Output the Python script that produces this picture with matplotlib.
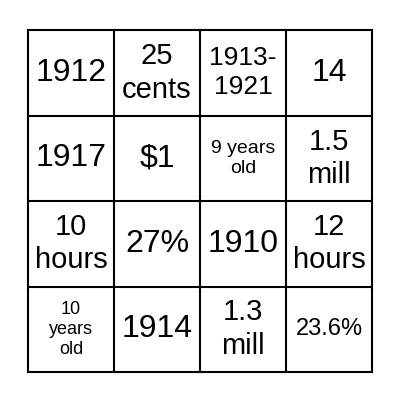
import matplotlib
matplotlib.use("Agg")
import matplotlib.pyplot as plt

cells = [
    ["1912", "25\ncents", "1913-\n1921", "14"],
    ["1917", "$1", "9 years\nold", "1.5\nmill"],
    ["10\nhours", "27%", "1910", "12\nhours"],
    ["10\nyears\nold", "1914", "1.3\nmill", "23.6%"],
]
sizes = [
    [23, 21, 19, 23],
    [23, 23, 14, 21],
    [21, 23, 23, 21],
    [13, 23, 21, 17],
]

fig = plt.figure(figsize=(4, 4), dpi=100)
ax = fig.add_axes([0.07, 0.07, 0.86, 0.855])
n = 4
ax.set_xlim(0, n); ax.set_ylim(n, 0)
ax.axis("off")
for i in range(n + 1):
    ax.plot([0, n], [i, i], color="black", lw=1.5, clip_on=False)
    ax.plot([i, i], [0, n], color="black", lw=1.5, clip_on=False)
for r in range(n):
    for c in range(n):
        ax.text(c + 0.5, r + 0.5, cells[r][c], ha="center", va="center",
                fontsize=sizes[r][c], family="Liberation Sans", linespacing=1.25)
fig.savefig("out.png", dpi=100, facecolor="white")
